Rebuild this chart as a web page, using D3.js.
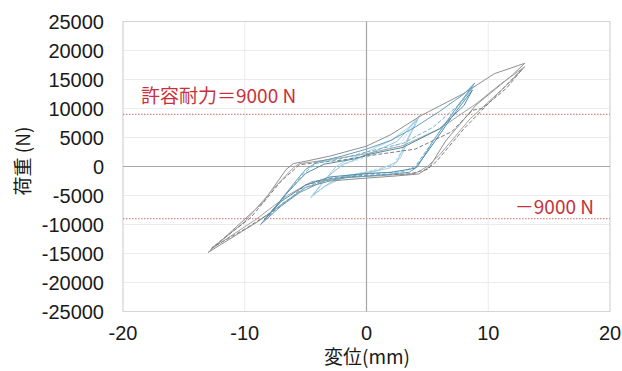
<!DOCTYPE html>
<html><head><meta charset="utf-8">
<script src="https://cdn.jsdelivr.net/npm/d3@7"></script>
<style>
html,body{margin:0;padding:0;background:#fff;}
svg{display:block;}
</style></head>
<body><svg id="c" width="622" height="371"></svg>
<script>
// ---- data ----
const xTicks = [-20, -10, 0, 10, 20];
const yTicks = [-25000, -20000, -15000, -10000, -5000, 0, 5000, 10000, 15000, 20000, 25000];
const allowable = 9000;
const xTitle = "変位(mm)";
const yTitle = "荷重 (N)";
const labelPos = "許容耐力＝9000 N";
const labelNeg = "－9000 N";

// loops at ±13 mm (gray)
const gray1 = [[0,3500],[2,5500],[4.5,8800],[8,12600],[10.5,16000],[13,17800],[12,15800],[9,10600],[6.5,4400],[5.2,0],[4.3,-1300],[2,-1700],[0,-2000],[-3,-2500],[-5,-3600],[-7,-6600],[-9,-9600],[-13,-14800],[-11,-11000],[-8.5,-6200],[-6.6,-500],[-6,500],[-5,900],[-3,1800],[0,3500]];
const gray2 = [[0,2200],[3,3600],[6,6500],[9,10800],[11,14200],[13,17200],[11.5,14000],[8.5,8200],[6,2000],[5,0],[4,-1200],[1,-1600],[-2,-1900],[-4.5,-2600],[-6.5,-5000],[-9,-9000],[-12.8,-14300],[-10,-9500],[-7.5,-3500],[-6,-200],[-5.5,500],[-3,1200],[0,2200]];
const gray3 = [[0,1800],[4,3000],[7,6000],[8.7,9700],[9.5,10000],[11.5,13500],[12.8,16800],[11,13000],[8,6500],[5.8,1000],[5,-500],[3.5,-1300],[0,-1500],[-3,-2100],[-5,-3200],[-7,-6800],[-10,-10800],[-12.7,-14000],[-9.5,-8800],[-7,-2500],[-5.5,300],[-4,700],[-2,1100],[0,1800]];
// loops at ±9 mm (blue)
const blue1 = [[0,3000],[2,4500],[4,6800],[6,9500],[8,12500],[8.9,14400],[7.5,10500],[5.5,4500],[4.2,0],[3.5,-1000],[1,-1500],[-1.5,-1900],[-3.5,-2500],[-5.5,-4500],[-7,-6800],[-8.7,-10000],[-7.5,-7000],[-5.8,-2500],[-5,-500],[-4,800],[-2,1800],[0,3000]];
const blue2 = [[0,2500],[3,4000],[5.5,6800],[7.5,10500],[8.8,13800],[7.2,9500],[5,3000],[4,0],[3,-900],[0,-1300],[-3,-2000],[-5,-3600],[-7,-6500],[-8.5,-9500],[-7,-5800],[-5.3,-1500],[-4.2,500],[-2,1400],[0,2500]];
const blue3 = [[0,2000],[3,3300],[6,6500],[8,10500],[8.7,13200],[7,8500],[5,2500],[4,-300],[2,-1000],[0,-1200],[-3,-1800],[-5,-3200],[-7,-6000],[-8.4,-9200],[-6.5,-4500],[-5,-1200],[-3.5,400],[-1,1300],[0,2000]];
// loops at ±4.5 mm (light blue)
const lblue1 = [[0,2500],[2,4500],[3.5,6800],[4.4,8900],[3.5,5000],[2.8,1500],[2,-200],[0,-1200],[-2,-2000],[-3.5,-3500],[-4.6,-5400],[-3.5,-2500],[-2.5,0],[-1.5,1200],[0,2500]];
const lblue2 = [[0,2000],[2.5,4300],[4.2,8200],[3.2,4000],[2.5,800],[1,-600],[-1.5,-1600],[-3,-2800],[-4.4,-4900],[-3.2,-1800],[-2,300],[-1,1100],[0,2000]];
const lblue3 = [[0,1600],[2.8,4000],[4.1,7800],[3,3200],[2.2,300],[0,-900],[-2,-1700],[-4.2,-4500],[-3,-1200],[-1.7,500],[0,1600]];

const loops = [
  {pts: lblue1, color: "#a9d3e6", dash: null},
  {pts: lblue2, color: "#93c6dd", dash: null},
  {pts: lblue3, color: "#b7dbea", dash: "3,2"},
  {pts: gray1, color: "#8f8f8f", dash: null},
  {pts: gray2, color: "#a3a3a3", dash: null},
  {pts: gray3, color: "#7d7d7d", dash: "4,2"},
  {pts: blue1, color: "#5f9fbd", dash: null},
  {pts: blue2, color: "#78b1cb", dash: "4,2"},
  {pts: blue3, color: "#4f8daa", dash: null}
];

// ---- chart ----
const svg = d3.select("#c");
const L = 123, R = 610, T = 21.5, B = 311.5;
const x = d3.scaleLinear().domain([-20, 20]).range([L, R]);
const y = d3.scaleLinear().domain([-25000, 25000]).range([B, T]);

const sans = "'Liberation Sans', Arial, sans-serif";
const cjk = "'Noto Sans CJK JP', 'Noto Sans CJK SC', sans-serif";

// gridlines
svg.append("g").selectAll("line.gy").data(yTicks).join("line")
  .attr("x1", L).attr("x2", R).attr("y1", d => y(d)).attr("y2", d => y(d))
  .attr("stroke", "#ebebeb").attr("stroke-width", 1);
svg.append("g").selectAll("line.gx").data(xTicks).join("line")
  .attr("y1", T).attr("y2", B).attr("x1", d => x(d)).attr("x2", d => x(d))
  .attr("stroke", "#ebebeb").attr("stroke-width", 1);
// frame
svg.append("rect").attr("x", L).attr("y", T).attr("width", R - L).attr("height", B - T)
  .attr("fill", "none").attr("stroke", "#d4d4d4").attr("stroke-width", 1);
// zero axes
svg.append("line").attr("x1", L).attr("x2", R).attr("y1", y(0)).attr("y2", y(0))
  .attr("stroke", "#a6a6a6").attr("stroke-width", 1.2);
svg.append("line").attr("y1", T).attr("y2", B).attr("x1", x(0)).attr("x2", x(0))
  .attr("stroke", "#a6a6a6").attr("stroke-width", 1.2);

// allowable lines
[allowable, -allowable].forEach(v => {
  svg.append("line").attr("x1", L).attr("x2", R).attr("y1", y(v)).attr("y2", y(v))
    .attr("stroke", "#d88a8a").attr("stroke-width", 1.2).attr("stroke-dasharray", "1.5,1.5");
});

// loops
const line = d3.line().x(d => x(d[0])).y(d => y(d[1]));
svg.append("g").selectAll("path").data(loops).join("path")
  .attr("d", d => line(d.pts))
  .attr("fill", "none")
  .attr("stroke", d => d.color)
  .attr("stroke-width", 1)
  .attr("stroke-linejoin", "round")
  .attr("stroke-dasharray", d => d.dash);

// axis labels
svg.append("g").selectAll("text").data(yTicks).join("text")
  .attr("x", 104).attr("y", d => y(d)).attr("dy", "0.36em")
  .attr("text-anchor", "end").attr("font-family", sans).attr("font-size", 20)
  .attr("fill", "#1a1a1a").text(d => d);
svg.append("g").selectAll("text").data(xTicks).join("text")
  .attr("x", d => x(d)).attr("y", 340)
  .attr("text-anchor", "middle").attr("font-family", sans).attr("font-size", 20)
  .attr("fill", "#1a1a1a").text(d => d);

svg.append("text").attr("x", 367).attr("y", 364).attr("text-anchor", "middle")
  .attr("font-family", cjk).attr("font-size", 19).attr("fill", "#1a1a1a").text(xTitle);
svg.append("text").attr("transform", "translate(30,161) rotate(-90)")
  .attr("text-anchor", "middle").attr("font-family", cjk).attr("font-size", 19)
  .attr("fill", "#1a1a1a").text(yTitle);

// red annotations
svg.append("text").attr("x", 141).attr("y", 103).attr("font-family", cjk).attr("font-size", 19)
  .attr("fill", "#c8313a").text(labelPos);
svg.append("text").attr("x", 594).attr("y", 214).attr("text-anchor", "end")
  .attr("font-family", cjk).attr("font-size", 19).attr("fill", "#c8313a").text(labelNeg);
</script></body></html>
